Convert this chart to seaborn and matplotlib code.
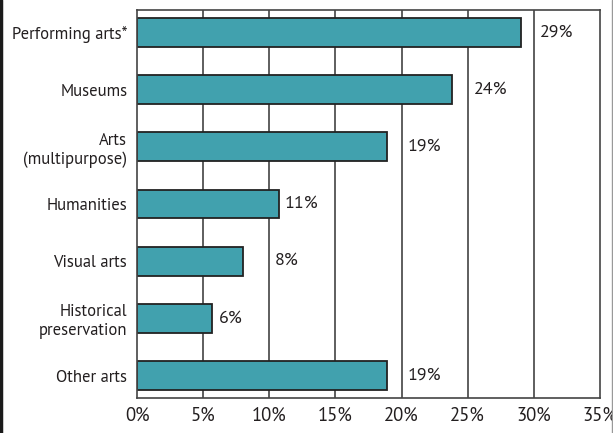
import matplotlib
matplotlib.use("Agg")
import matplotlib.pyplot as plt
import seaborn as sns
import pandas as pd
from matplotlib.lines import Line2D

categories = ["Performing arts*", "Museums", "Arts\n(multipurpose)", "Humanities",
              "Visual arts", "Historical\npreservation", "Other arts"]
values = [29.0, 23.8, 18.9, 10.7, 8.0, 5.7, 18.9]
value_labels = ["29%", "24%", "19%", "11%", "8%", "6%", "19%"]
x_ticks = [0, 5, 10, 15, 20, 25, 30, 35]
x_tick_labels = ["0%", "5%", "10%", "15%", "20%", "25%", "30%", "35%"]

sns.set_theme(style="white")
plt.rcParams["font.family"] = ["PT Sans", "DejaVu Sans"]

df = pd.DataFrame({"category": categories, "value": values})

fig = plt.figure(figsize=(6.13, 4.33), dpi=100)
ax = fig.add_axes([137/613, 1-398/433, (600-137)/613, (398-10)/433])

for xv in x_ticks[1:-1]:
    ax.axvline(xv, color="#333333", lw=1.1, zorder=0)

sns.barplot(data=df, x="value", y="category", orient="h", width=0.5,
            color="#41a1ae", edgecolor="#222222", linewidth=1.3,
            saturation=1, ax=ax, zorder=2)

for i, (v, lab) in enumerate(zip(values, value_labels)):
    nxt = (int(v // 5) + 1) * 5
    if nxt - v <= 2.5:
        xpos = nxt + 0.45
    else:
        xpos = v + 0.5
    ax.text(xpos, i, lab, va="center", ha="left", fontsize=13, color="#231f20")

ax.set_xlim(0, 35)
ax.set_ylim(6.39, -0.39)
ax.set_xticks(x_ticks)
ax.set_xticklabels(x_tick_labels, fontsize=13.5, color="#231f20")
ax.tick_params(axis="y", labelsize=12, labelcolor="#231f20", length=0, pad=7)
ax.tick_params(axis="x", length=0, pad=6)
ax.set_xlabel("")
ax.set_ylabel("")
for s in ax.spines.values():
    s.set_visible(True)
    s.set_color("#444444")
    s.set_linewidth(1.2)

fig.add_artist(Line2D([1.5/613, 1.5/613], [0, 1], color="#1a1a1a", lw=2.5,
                      transform=fig.transFigure))
fig.add_artist(Line2D([611.5/613, 611.5/613], [0, 1], color="#999999", lw=1,
                      transform=fig.transFigure))

fig.savefig("out.png", dpi=100)
